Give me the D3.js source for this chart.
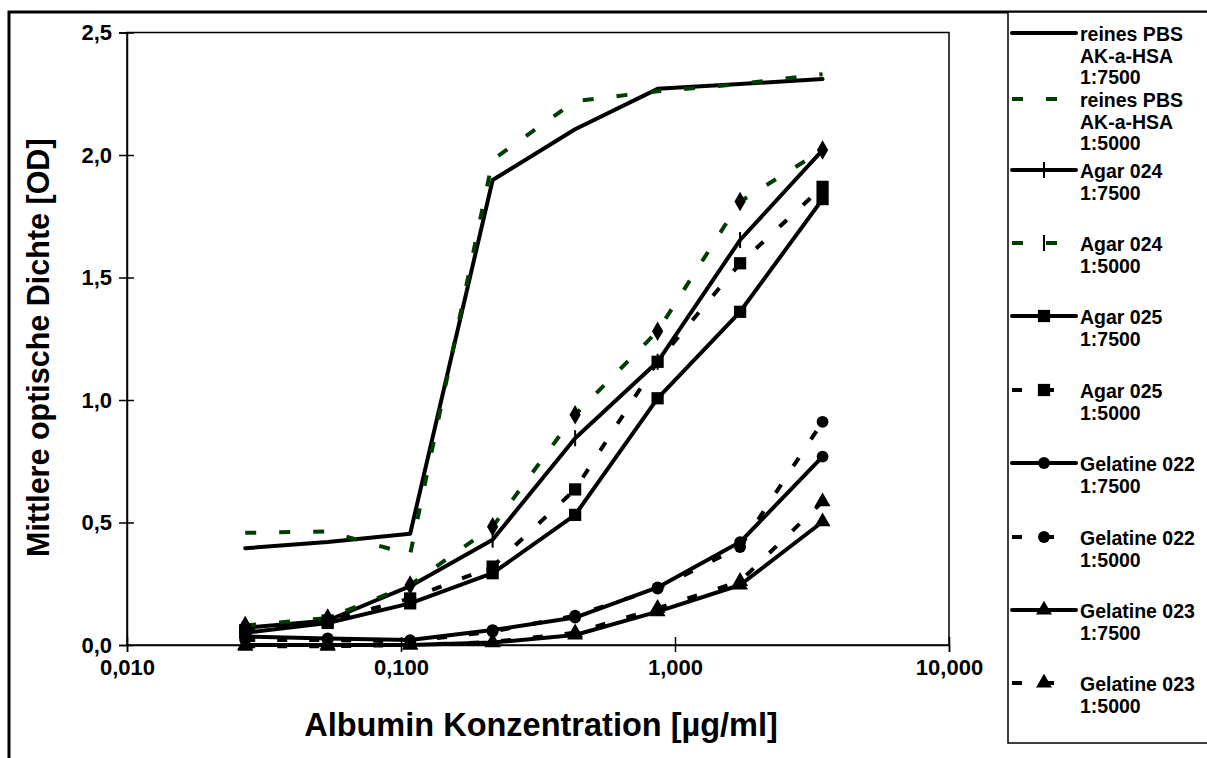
<!DOCTYPE html>
<html>
<head>
<meta charset="utf-8">
<script src="https://cdn.jsdelivr.net/npm/d3@7"></script>
<style>
  html, body { margin: 0; padding: 0; background: #fff; }
  svg { display: block; font-family: "Liberation Sans", Arial, sans-serif; font-weight: bold; }
</style>
</head>
<body>
<svg id="chart" width="1207" height="758"></svg>
<script>
// Albumin-Konzentration (µg/ml), Verdünnungsreihe
const concentrations = [0.027, 0.054, 0.108, 0.216, 0.432, 0.864, 1.728, 3.456];

// Mittlere optische Dichte je Messreihe
const pbs7500   = [0.395, 0.42, 0.454, 1.898, 2.105, 2.27, 2.29, 2.31];
const pbs5000   = [0.458, 0.463, 0.37, 1.98, 2.22, 2.26, 2.29, 2.33];
const agar024_7500 = [0.07, 0.10, 0.24, 0.43, 0.844, 1.156, 1.653, 2.02];
const agar024_5000 = [0.08, 0.11, 0.245, 0.483, 0.94, 1.281, 1.81, 2.02];
const agar025_7500 = [0.05, 0.09, 0.17, 0.293, 0.531, 1.007, 1.36, 1.82];
const agar025_5000 = [0.06, 0.10, 0.19, 0.32, 0.635, 1.156, 1.558, 1.87];
const gel022_7500 = [0.035, 0.027, 0.02, 0.061, 0.112, 0.235, 0.42, 0.769];
const gel022_5000 = [0.02, 0.02, 0.015, 0.055, 0.12, 0.23, 0.40, 0.911];
const gel023_7500 = [0.0, 0.0, 0.0, 0.01, 0.041, 0.136, 0.245, 0.503];
const gel023_5000 = [-0.005, -0.005, 0.0, 0.012, 0.05, 0.15, 0.26, 0.585];

const seriesNames = [
  ["reines PBS", "AK-a-HSA", "1:7500"],
  ["reines PBS", "AK-a-HSA", "1:5000"],
  ["Agar 024", "1:7500"],
  ["Agar 024", "1:5000"],
  ["Agar 025", "1:7500"],
  ["Agar 025", "1:5000"],
  ["Gelatine 022", "1:7500"],
  ["Gelatine 022", "1:5000"],
  ["Gelatine 023", "1:7500"],
  ["Gelatine 023", "1:5000"]
];
const seriesValues = [pbs7500, pbs5000, agar024_7500, agar024_5000, agar025_7500,
                      agar025_5000, gel022_7500, gel022_5000, gel023_7500, gel023_5000];

const yTicks = [0, 0.5, 1.0, 1.5, 2.0, 2.5];
const xTicks = [0.01, 0.1, 1, 10];

// Darstellung je Reihe
const GREEN = "#003d00";
const styles = [
  { color: "#000", dash: null,    marker: null },
  { color: GREEN,  dash: "11,23", marker: null },
  { color: "#000", dash: null,    marker: "plus" },
  { color: GREEN,  dash: "11,23", marker: "diamond", legendMarker: "plus" },
  { color: "#000", dash: null,    marker: "square" },
  { color: "#000", dash: "10,22", marker: "square" },
  { color: "#000", dash: null,    marker: "circle" },
  { color: "#000", dash: "10,22", marker: "circle" },
  { color: "#000", dash: null,    marker: "triangle" },
  { color: "#000", dash: "10,22", marker: "triangle" }
];

// Zeilenlage der Legendeneinträge (Symbolhöhe)
const legendRowY = [33, 99, 170, 243, 316, 390, 463, 537, 610, 683];
const legendLineGap = 21.5;

const de = d3.formatLocale({ decimal: ",", thousands: ".", grouping: [3], currency: ["", " €"] });

const svg = d3.select("#chart");

// Diagrammrahmen
svg.append("rect")
  .attr("x", 9).attr("y", 12).attr("width", 1400).attr("height", 900)
  .attr("fill", "#fff").attr("stroke", "#000").attr("stroke-width", 3);

const plot = { left: 127, right: 949, top: 32.5, bottom: 645 };

const x = d3.scaleLog().domain([0.01, 10]).range([plot.left, plot.right]);
const y = d3.scaleLinear().domain([0, 2.5]).range([plot.bottom, plot.top]);

// Zeichenfläche
svg.append("rect")
  .attr("x", plot.left).attr("y", plot.top)
  .attr("width", plot.right - plot.left).attr("height", plot.bottom - plot.top)
  .attr("fill", "none").attr("stroke", "#000").attr("stroke-width", 1.5);

// Y-Achse: Beschriftung und beidseitige Teilstriche
const yAxis = svg.append("g").attr("transform", `translate(${plot.left},0)`)
  .call(d3.axisLeft(y).tickValues(yTicks).tickFormat(de.format(".1f")).tickSize(8).tickPadding(7));
svg.append("g").attr("transform", `translate(${plot.left},0)`)
  .call(d3.axisLeft(y).tickValues(yTicks).tickFormat("").tickSize(-7))
  .select(".domain").remove();
yAxis.selectAll("text").attr("font-size", 22).attr("font-weight", "bold")
  .attr("font-family", "Liberation Sans, Arial, sans-serif").attr("fill", "#000");

// X-Achse (logarithmisch)
const xAxis = svg.append("g").attr("transform", `translate(0,${plot.bottom})`)
  .call(d3.axisBottom(x).tickValues(xTicks).tickFormat(de.format(".3f")).tickSize(7).tickPadding(7));
svg.append("g").attr("transform", `translate(0,${plot.bottom})`)
  .call(d3.axisBottom(x).tickValues(xTicks).tickFormat("").tickSize(-8))
  .select(".domain").remove();
xAxis.selectAll("text").attr("font-size", 22).attr("font-weight", "bold")
  .attr("font-family", "Liberation Sans, Arial, sans-serif").attr("fill", "#000");

svg.selectAll(".domain, .tick line").attr("stroke", "#000").attr("stroke-width", 1.5);

// Achsentitel
svg.append("text")
  .attr("x", (plot.left + plot.right) / 2 + 3).attr("y", 725)
  .attr("dominant-baseline", "central")
  .attr("text-anchor", "middle").attr("font-size", 32.5)
  .text("Albumin Konzentration [µg/ml]");
svg.append("text")
  .attr("transform", `translate(38,${(plot.top + plot.bottom) / 2 + 9}) rotate(-90)`)
  .attr("dominant-baseline", "central")
  .attr("text-anchor", "middle").attr("font-size", 30.5)
  .text("Mittlere optische Dichte [OD]");

// Markerformen
function drawMarker(g, type, cx, cy) {
  if (!type) return;
  if (type === "plus") {
    g.append("line").attr("x1", cx).attr("x2", cx).attr("y1", cy - 8).attr("y2", cy + 8)
      .attr("stroke", "#000").attr("stroke-width", 2);
    return;
  }
  const shapes = {
    diamond: [d3.symbolDiamond, 110],
    square: [d3.symbolSquare, 150],
    circle: [d3.symbolCircle, 110],
    triangle: [d3.symbolTriangle, 110]
  };
  const [s, size] = shapes[type];
  g.append("path").attr("d", d3.symbol(s, size)())
    .attr("transform", `translate(${cx},${cy})`).attr("fill", "#000");
}

const line = d3.line().x((d, i) => x(concentrations[i])).y(d => y(d));

const marks = svg.append("g");
seriesValues.forEach((vals, k) => {
  const st = styles[k];
  const g = marks.append("g");
  g.append("path").datum(vals).attr("d", line)
    .attr("fill", "none").attr("stroke", st.color).attr("stroke-width", 4)
    .attr("stroke-linejoin", "round").attr("stroke-linecap", st.dash ? "butt" : "round")
    .attr("stroke-dasharray", st.dash);
  vals.forEach((v, i) => drawMarker(g, st.marker, x(concentrations[i]), y(v)));
});

// Legende
const legend = svg.append("g");
legend.append("rect").attr("x", 1008).attr("y", 12).attr("width", 400).attr("height", 731)
  .attr("fill", "#fff").attr("stroke", "#000").attr("stroke-width", 1.5);
seriesNames.forEach((lines, k) => {
  const st = styles[k];
  const ly = legendRowY[k];
  const g = legend.append("g");
  g.append("line").attr("x1", 1012).attr("x2", 1076).attr("y1", ly).attr("y2", ly)
    .attr("stroke", st.color).attr("stroke-width", 4)
    .attr("stroke-linecap", st.dash ? "butt" : "round")
    .attr("stroke-dasharray", st.dash);
  drawMarker(g, st.legendMarker || st.marker, 1044, ly);
  lines.forEach((t, j) => {
    g.append("text").attr("x", 1080).attr("y", ly + 1 + j * legendLineGap)
      .attr("dominant-baseline", "central").attr("font-size", 19.5).text(t);
  });
});
</script>
</body>
</html>
